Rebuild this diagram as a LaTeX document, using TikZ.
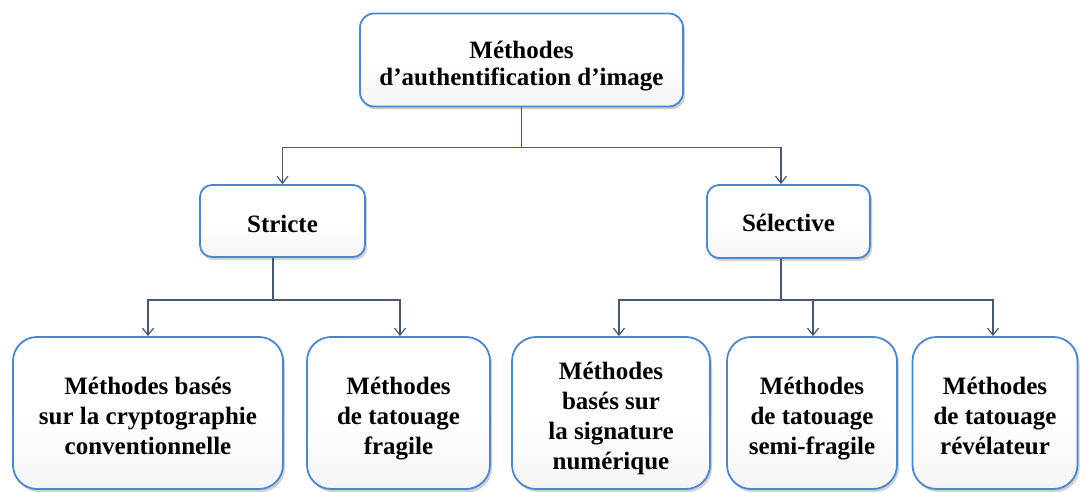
\documentclass[tikz,border=0pt]{standalone}
\usepackage{fontspec}
\setmainfont{Liberation Serif}
\usetikzlibrary{arrows.meta,shadows,calc}
\definecolor{boxblue}{RGB}{74,134,214}
\definecolor{linecol}{RGB}{72,88,118}
\newcommand\lowtxt[2][5pt]{\raisebox{-#1}[\height][\depth]{\begin{tabular}{@{}c@{}}#2\end{tabular}}}
\tikzset{
  box/.style={draw=boxblue, line width=1.8pt, rounded corners=#1,
    top color=white, bottom color=gray!8, middle color=white,
    drop shadow={shadow xshift=2pt, shadow yshift=-3pt, fill=gray!60, opacity=0.6},
    font=\bfseries\fontsize{25}{30}\selectfont, inner sep=0pt},
  conn/.style={draw=linecol, line width=1.4pt},
  arr/.style={conn, -{Straight Barb[length=7pt,width=11pt,line width=1.2pt]}},
}
\begin{document}
\begin{tikzpicture}[x=1pt,y=-1pt]
\useasboundingbox (0,0) rectangle (1084,492);
\node[box=14pt, minimum width=323pt, minimum height=93pt, font=\bfseries\fontsize{25}{27}\selectfont] (top) at (521.5,60) {\lowtxt[7pt]{Méthodes\\d’authentification d’image}};
\node[box=12pt, minimum width=165pt, minimum height=72pt] (stricte) at (282.5,221) {\lowtxt[5pt]{Stricte}};
\node[box=12pt, minimum width=163pt, minimum height=73pt] (selective) at (788.5,221.5) {\lowtxt[4pt]{Sélective}};
\node[box=24pt, minimum width=270pt, minimum height=152pt] (b1) at (148,413) {\lowtxt{Méthodes basés\\sur la cryptographie\\conventionnelle}};
\node[box=24pt, minimum width=183pt, minimum height=152pt] (b2) at (398.5,413) {\lowtxt{Méthodes\\de tatouage\\fragile}};
\node[box=24pt, minimum width=198pt, minimum height=152pt] (b3) at (611,413) {\lowtxt{Méthodes\\basés sur\\la signature\\numérique}};
\node[box=24pt, minimum width=170pt, minimum height=152pt] (b4) at (812,413) {\lowtxt{Méthodes\\de tatouage\\semi-fragile}};
\node[box=24pt, minimum width=165pt, minimum height=152pt] (b5) at (995,413) {\lowtxt{Méthodes\\de tatouage\\révélateur}};

\coordinate (t1) at ($(top.south)+(0,40)$);
\draw[conn] (top.south) -- (t1);
\draw[arr] (t1) -| (stricte.north);
\draw[arr] (t1) -| ([xshift=-7.5pt]selective.north);

\coordinate (s1) at ($([xshift=-9.5pt]stricte.south)+(0,42)$);
\draw[conn] ([xshift=-9.5pt]stricte.south) -- (s1);
\draw[arr] (s1) -| (b1.north);
\draw[arr] (s1) -| ([xshift=1.5pt]b2.north);

\coordinate (s2) at ($([xshift=-7.5pt]selective.south)+(0,41)$);
\draw[conn, line width=2pt] ([xshift=-7.5pt]selective.south) -- (s2);
\draw[arr] (s2) -| ([xshift=8pt]b3.north);
\draw[arr] (s2) -| ([xshift=1pt]b4.north);
\draw[arr] (s2) -| ([xshift=-2pt]b5.north);
\end{tikzpicture}
\end{document}
